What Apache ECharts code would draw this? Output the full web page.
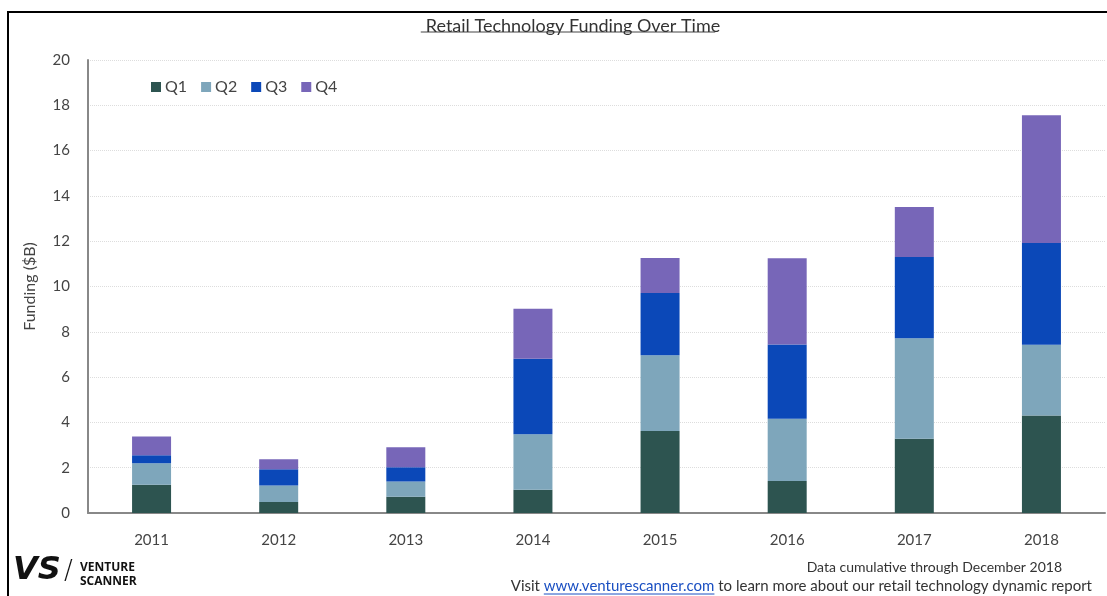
<!DOCTYPE html>
<html>
<head>
<meta charset="utf-8">
<script src="https://cdn.jsdelivr.net/npm/echarts@6/dist/echarts.min.js"></script>
<style>
    html, body { margin: 0; padding: 0; background: #fff; }
    #chart { width: 1107px; height: 596px; }
</style>
</head>
<body>
<div id="chart"></div>
<script>
const years = ["2011", "2012", "2013", "2014", "2015", "2016", "2017", "2018"];
const q1 = [1.25, 0.49, 0.72, 1.03, 3.62, 1.41, 3.28, 4.30];
const q2 = [0.95, 0.72, 0.67, 2.45, 3.34, 2.75, 4.44, 3.13];
const q3 = [0.35, 0.72, 0.63, 3.33, 2.75, 3.28, 3.58, 4.49];
const q4 = [0.83, 0.44, 0.88, 2.21, 1.55, 3.81, 2.21, 5.64];
const quarterNames = ["Q1", "Q2", "Q3", "Q4"];

const color = ["#2d5450", "#7ea6bb", "#0b48b8", "#7766b8"];
const font = "Lato";
const titleText = "Retail Technology Funding Over Time";
const titleFont = "18px " + font;

// measure text for the underlines
const ctx = document.createElement("canvas").getContext("2d");
function textWidth(txt, f) {
    ctx.font = f;
    return ctx.measureText(txt).width;
}
const titleW = textWidth(titleText, titleFont);
const visitPre = "Visit ";
const visitLink = "www.venturescanner.com";
const visitPost = " to learn more about our retail technology dynamic report";
const visitFont = "15px " + font;
const visitRight = 1092;
const visitStart = visitRight - textWidth(visitPre + visitLink + visitPost, visitFont);
const linkStart = visitStart + textWidth(visitPre, visitFont);
const linkEnd = linkStart + textWidth(visitLink, visitFont);

let chart = echarts.init(document.getElementById("chart"));

let seriesData = [q1, q2, q3, q4].map((vals, idx) => {
    return {
        name: quarterNames[idx],
        type: "bar",
        stack: "total",
        barWidth: 39,
        data: vals
    };
});

let options = {
    color: color,
    animation: false,
    title: {
        text: titleText,
        left: 568,
        textAlign: "center",
        top: 12,
        textStyle: {
            fontFamily: font,
            fontSize: 18,
            fontWeight: "normal",
            color: "#333"
        }
    },
    legend: {
        data: quarterNames,
        left: 146,
        top: 74,
        itemWidth: 10,
        itemHeight: 10,
        itemGap: 14,
        icon: "rect",
        textStyle: {
            fontFamily: font,
            fontSize: 16,
            color: "#444",
            padding: [0, 0, 0, -1]
        }
    },
    grid: {
        left: 88,
        right: 2,
        top: 60,
        bottom: 83,
        containLabel: false
    },
    xAxis: {
        type: "category",
        data: years,
        axisTick: { show: false },
        axisLine: { lineStyle: { color: "#888", width: 2 } },
        axisLabel: {
            margin: 20,
            fontFamily: font,
            fontSize: 15,
            color: "#444"
        }
    },
    yAxis: {
        type: "value",
        min: 0,
        max: 20,
        interval: 2,
        name: "Funding ($B)",
        nameLocation: "middle",
        nameGap: 50,
        nameTextStyle: {
            fontFamily: font,
            fontSize: 16,
            color: "#444"
        },
        axisLine: { show: true, lineStyle: { color: "#888", width: 2 } },
        axisTick: { show: false },
        axisLabel: {
            margin: 18,
            fontFamily: font,
            fontSize: 15,
            color: "#444"
        },
        splitLine: {
            lineStyle: { color: "#ddd", type: "dotted" }
        }
    },
    graphic: [
        {
            type: "polyline",
            shape: { points: [[8, 596], [8, 12], [1107, 12]] },
            style: { stroke: "#000", lineWidth: 2, fill: null }
        },
        {
            type: "line",
            shape: { x1: 568 - titleW / 2, y1: 32, x2: 568 + titleW / 2, y2: 32 },
            style: { stroke: "#444", lineWidth: 1 }
        },
        {
            type: "text",
            left: 13,
            top: 555,
            style: { text: "VS", font: "italic 900 32px 'DejaVu Sans'", fill: "#111" }
        },
        {
            type: "text",
            left: 64,
            top: 559,
            style: { text: "/", font: "300 26px 'DejaVu Sans'", fill: "#111" }
        },
        {
            type: "text",
            left: 80,
            top: 561,
            style: { text: "VENTURE\nSCANNER", font: "bold 12px 'Open Sans'", lineHeight: 14, fill: "#111" }
        },
        {
            type: "text",
            right: 45,
            top: 560,
            style: { text: "Data cumulative through December 2018", font: "14px " + font, fill: "#333" }
        },
        {
            type: "text",
            left: visitStart,
            top: 579,
            style: {
                text: visitPre + "{link|" + visitLink + "}" + visitPost,
                font: visitFont,
                fill: "#333",
                rich: {
                    link: { fontFamily: font, fontSize: 15, fill: "#1a4fc2", color: "#1a4fc2" }
                }
            }
        },
        {
            type: "line",
            shape: { x1: linkStart, y1: 594, x2: linkEnd, y2: 594 },
            style: { stroke: "#1a4fc2", lineWidth: 1 }
        }
    ],
    series: seriesData
};

chart.setOption(options);
</script>
</body>
</html>
